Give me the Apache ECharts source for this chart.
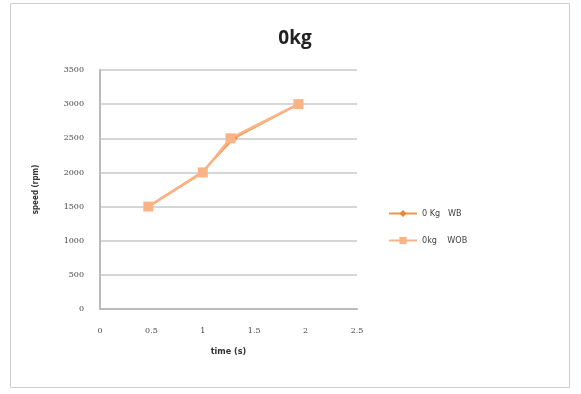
<!DOCTYPE html>
<html><head><meta charset="utf-8">
<script src="https://cdn.jsdelivr.net/npm/echarts@6/dist/echarts.min.js"></script>
<style>html,body{margin:0;padding:0;background:#fff}#c{width:581px;height:394px}</style>
</head><body><div id="c"></div>
<script>
const titleText = '0kg';
const xName = 'time (s)';
const yName = 'speed (rpm)';
const seriesNames = ['0 Kg   WB', '0kg    WOB'];
const wbTime = [0.47, 0.99, 1.3, 1.93];
const wbSpeed = [1500, 2000, 2500, 3000];
const wobTime = [0.47, 1.0, 1.27, 1.93];
const wobSpeed = [1500, 2000, 2500, 3000];

const chart = echarts.init(document.getElementById('c'));
const pair = (xs, ys) => xs.map((x, i) => [x, ys[i]]);
const lblStyle = {color: '#444', fontSize: 8, fontFamily: 'DejaVu Serif'};
chart.setOption({
  animation: false,
  backgroundColor: '#fff',
  graphic: [{type: 'rect', shape: {x: 10.5, y: 3.5, width: 559, height: 384},
    style: {fill: 'none', stroke: '#cfcfcf', lineWidth: 1}}],
  title: {text: titleText, left: 290, top: 24, textAlign: 'center',
    textStyle: {fontSize: 19, fontWeight: 'bold', color: '#222', fontFamily: 'Open Sans'}},
  grid: {left: 100, right: 224, top: 70, bottom: 85},
  legend: {orient: 'vertical', left: 383, top: 204, itemGap: 18, itemWidth: 28, itemHeight: 9,
    textStyle: {fontSize: 9, color: '#444', fontFamily: 'DejaVu Sans Condensed'},
    data: seriesNames},
  xAxis: {type: 'value', min: 0, max: 2.5, interval: 0.5,
    name: xName, nameLocation: 'middle', nameGap: 38,
    nameTextStyle: {fontSize: 9, fontWeight: 'bold', color: '#333', fontFamily: 'DejaVu Sans Condensed'},
    axisLine: {show: true, lineStyle: {color: '#bbb', width: 2}},
    axisTick: {show: false}, splitLine: {show: false},
    axisLabel: Object.assign({margin: 18, formatter: v => String(v)}, lblStyle)},
  yAxis: {type: 'value', min: 0, max: 3500, interval: 500,
    name: yName, nameLocation: 'middle', nameGap: 60, nameRotate: 90,
    nameTextStyle: {fontSize: 8, fontWeight: 'bold', color: '#333', fontFamily: 'DejaVu Sans Condensed'},
    axisLine: {show: true, lineStyle: {color: '#bbb', width: 2}},
    axisTick: {show: false},
    splitLine: {lineStyle: {color: '#d6d6d6', width: 2}},
    axisLabel: Object.assign({margin: 16, formatter: v => String(v)}, lblStyle)},
  series: [
    {name: seriesNames[0], type: 'line', data: pair(wbTime, wbSpeed),
      symbol: 'diamond', symbolSize: 8, color: '#E8873A',
      lineStyle: {width: 2, color: '#EE9650'}, itemStyle: {color: '#E8873A'}},
    {name: seriesNames[1], type: 'line', data: pair(wobTime, wobSpeed),
      symbol: 'rect', symbolSize: 10, color: '#FBB386',
      lineStyle: {width: 2.5, color: '#FBB386'}, itemStyle: {color: '#FBB386'}}
  ]
});
</script></body></html>
